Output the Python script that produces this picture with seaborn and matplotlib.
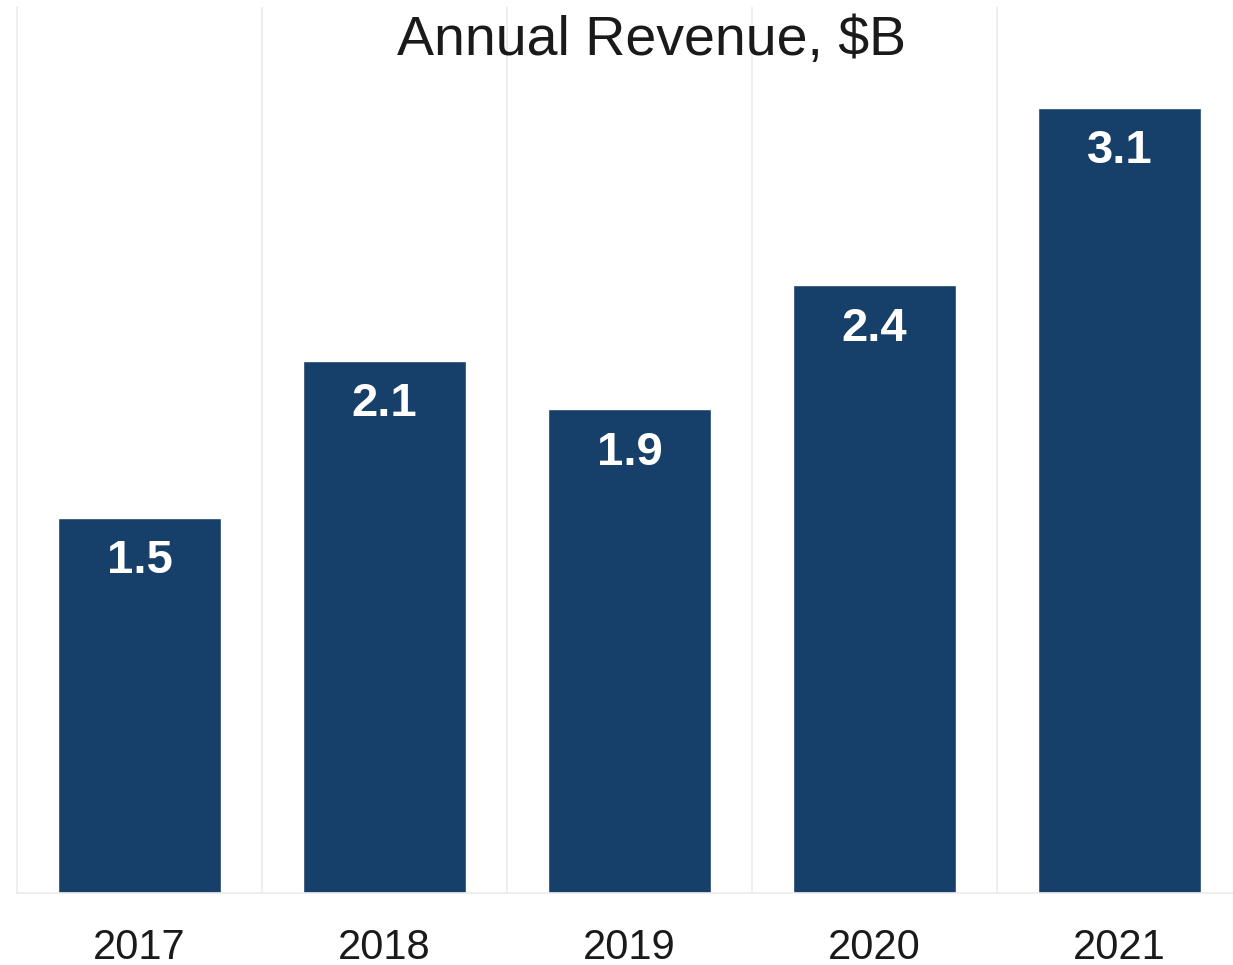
import matplotlib
matplotlib.use("Agg")
import matplotlib.pyplot as plt
import seaborn as sns
import pandas as pd
from matplotlib.ticker import FixedLocator

years = ["2017", "2018", "2019", "2020", "2021"]
revenue = [1.48, 2.10, 1.91, 2.40, 3.10]
title = "Annual Revenue, $B"

sns.set_style("white")
plt.rcParams["font.family"] = ["Liberation Sans", "DejaVu Sans"]

df = pd.DataFrame({"year": years, "revenue": revenue})
fig = plt.figure(figsize=(12.33, 9.65), dpi=100)
ax = fig.add_axes([17 / 1233, 1 - 893 / 965, 1225 / 1233, 886 / 965])

sns.barplot(data=df, x="year", y="revenue", color="#163f69", saturation=1,
            width=0.665, ax=ax)
ax.set_xlim(-0.5, 4.5)
ax.set_ylim(0, 3.5)
ax.set_xlabel("")
ax.set_ylabel("")
ax.set_yticks([])
ax.xaxis.set_minor_locator(FixedLocator([0.5, 1.5, 2.5, 3.5]))
ax.grid(which="minor", axis="x", color="#ebebeb", linewidth=1.2)
ax.tick_params(axis="x", which="both", length=0)
ax.tick_params(axis="x", labelsize=30, pad=25.5, colors="#1a1a1a")
for s in ["top", "right"]:
    ax.spines[s].set_visible(False)
for s in ["left", "bottom"]:
    ax.spines[s].set_color("#ebebeb")
    ax.spines[s].set_linewidth(1.2)

for i, v in enumerate(revenue):
    ax.annotate(f"{v:.1f}", (i, v), xytext=(0, -31), textcoords="offset points",
                ha="center", va="center", color="white", fontsize=34,
                fontweight="bold")

ax.text(0.518, 1 - 34 / 886, title, transform=ax.transAxes, ha="center",
        va="center", fontsize=40, color="#1a1a1a")

fig.savefig("out.png", dpi=100)
